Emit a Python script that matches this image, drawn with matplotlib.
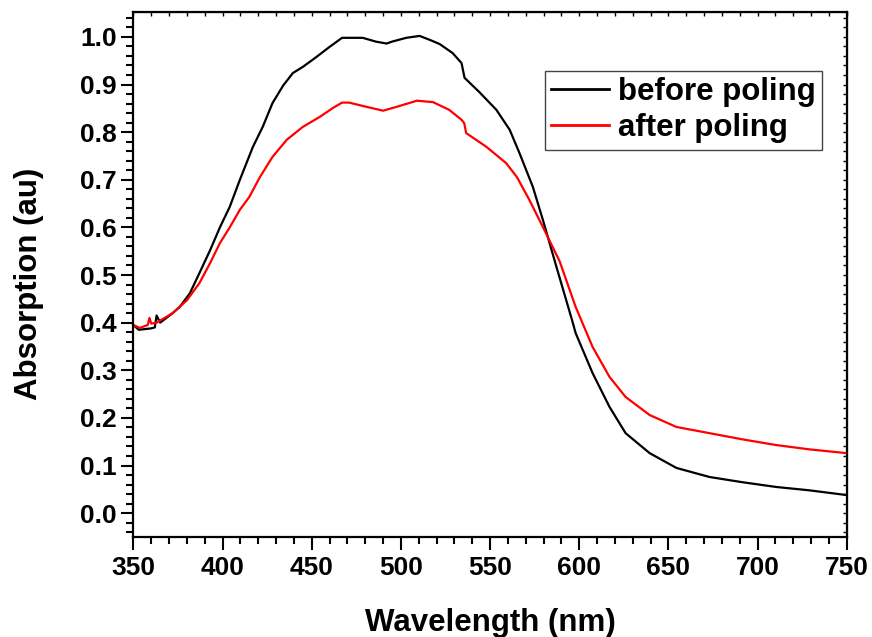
""" Plots the absorption spectra of the film before and after poling.
"""
import matplotlib
matplotlib.use('Agg')
import matplotlib.pyplot as plt
from matplotlib.ticker import MultipleLocator

# values
wl_before = [350, 353, 360, 362, 363, 365, 372, 376, 381.7, 387, 393, 398.5,
             404, 409.7, 417, 422.5, 428, 434, 439.4, 445, 452.7, 460, 467,
             478.6, 486, 492, 495, 503, 510.5, 516, 521.7, 529, 534, 535.7,
             544, 553.5, 561, 566.5, 574, 579.6, 587, 596, 598, 607.5, 617,
             626, 639.5, 654.5, 673, 691.5, 710.5, 729, 750]
abs_before = [0.395, 0.385, 0.388, 0.39, 0.415, 0.40, 0.42, 0.433, 0.462,
              0.504, 0.552, 0.60, 0.643, 0.70, 0.769, 0.811, 0.861, 0.898,
              0.924, 0.937, 0.958, 0.979, 0.998, 0.998, 0.990, 0.986, 0.990,
              0.998, 1.002, 0.994, 0.985, 0.966, 0.945, 0.914, 0.884, 0.847,
              0.805, 0.756, 0.685, 0.616, 0.520, 0.405, 0.378, 0.294, 0.223,
              0.168, 0.126, 0.095, 0.076, 0.065, 0.055, 0.048, 0.038]

wl_after = [350, 353.6, 358, 359, 360, 363, 372, 380, 387, 393, 398.5, 404,
            409.7, 415, 421, 428, 436, 445, 454.5, 462, 467, 471, 478.6, 490,
            497.5, 509, 518, 527, 534, 535.5, 536.6, 548, 559, 565, 572,
            579.6, 589, 598, 607.5, 617, 626, 639.5, 654.5, 673, 691.5,
            710.5, 729, 750]
abs_after = [0.395, 0.389, 0.395, 0.41, 0.398, 0.40, 0.42, 0.447, 0.483,
             0.525, 0.567, 0.60, 0.637, 0.664, 0.706, 0.748, 0.784, 0.811,
             0.832, 0.851, 0.862, 0.862, 0.855, 0.845, 0.853, 0.866, 0.863,
             0.847, 0.826, 0.819, 0.798, 0.769, 0.735, 0.706, 0.658, 0.601,
             0.529, 0.433, 0.349, 0.286, 0.244, 0.206, 0.181, 0.168, 0.155,
             0.143, 0.134, 0.126]

labels = ['before poling', 'after poling']
colors = ['black', 'red']

plt.rcParams['font.family'] = ['Liberation Sans', 'DejaVu Sans']
plt.rcParams['font.weight'] = 'bold'


def _style_axes(ax):
    """
    Sets limits, ticks and spines in the look of the original figure.
    """
    ax.set_xlim(350, 750)
    ax.set_ylim(-0.05, 1.052)
    ax.xaxis.set_major_locator(MultipleLocator(50))
    ax.xaxis.set_minor_locator(MultipleLocator(10))
    ax.yaxis.set_major_locator(MultipleLocator(0.1))
    ax.yaxis.set_minor_locator(MultipleLocator(0.02))
    ax.tick_params(which='both', direction='out', width=1.5, labelsize=19,
                   top=False, right=False)
    ax.tick_params(which='major', length=9)
    ax.tick_params(which='minor', length=5)
    ax.tick_params(axis='x', pad=5)
    ax.tick_params(axis='y', pad=3)
    for side in ax.spines.values():
        side.set_linewidth(1.6)

    # inward ticks on top and right, no labels
    top = ax.secondary_xaxis('top')
    top.xaxis.set_major_locator(MultipleLocator(50))
    top.xaxis.set_minor_locator(MultipleLocator(10))
    top.tick_params(which='both', direction='in', length=3, width=1,
                    labeltop=False)
    right = ax.secondary_yaxis('right')
    right.yaxis.set_major_locator(MultipleLocator(0.1))
    right.yaxis.set_minor_locator(MultipleLocator(0.02))
    right.tick_params(which='both', direction='in', length=3, width=1,
                      labelright=False)
    yfmt = plt.FuncFormatter(lambda v, _: f'{v:.1f}')
    ax.yaxis.set_major_formatter(yfmt)


fig = plt.figure(figsize=(8.72, 6.37), dpi=100)
ax = fig.add_axes([0.153, 0.157, 0.818, 0.824])

ax.plot(wl_before, abs_before, color=colors[0], lw=1.6, label=labels[0])
ax.plot(wl_after, abs_after, color=colors[1], lw=1.6, label=labels[1])
_style_axes(ax)

ax.set_xlabel('Wavelength (nm)', fontsize=22.5, fontweight='bold',
              labelpad=20)
ax.set_ylabel('Absorption (au)', fontsize=22.5, fontweight='bold')
ax.yaxis.set_label_coords(-0.125, 0.482)

leg = ax.legend(loc='upper right', bbox_to_anchor=(0.966, 0.888),
                fontsize=22.5, frameon=True, fancybox=False, framealpha=1,
                handlelength=1.85, handletextpad=0.3, labelspacing=0.2,
                borderpad=0.2, borderaxespad=0)
leg.get_frame().set_edgecolor('#444444')
leg.get_frame().set_linewidth(1.0)
for line in leg.get_lines():
    line.set_linewidth(2.0)

plt.savefig('out.png', dpi=100)
